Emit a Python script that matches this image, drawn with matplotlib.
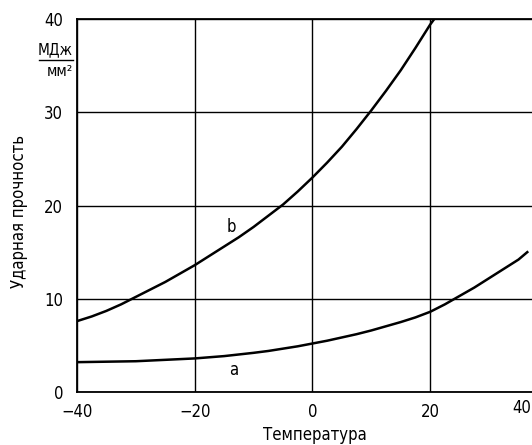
import numpy as np
import matplotlib.pyplot as plt
from matplotlib.lines import Line2D

plt.rcParams['font.family'] = ['DejaVu Sans']
plt.rcParams['font.stretch'] = 'condensed'

# Curve b (upper)
temp_b = [-40, -37.5, -35, -32.5, -30, -27.5, -25, -22.5, -20, -17.5, -15, -12.5, -10,
          -7.5, -5, -2.5, 0, 2.5, 5, 7.5, 10, 12.5, 15, 17.5, 20, 20.7]
impact_b = [7.6, 8.1, 8.7, 9.4, 10.2, 11.0, 11.8, 12.7, 13.6, 14.6, 15.6, 16.6, 17.7,
            18.9, 20.1, 21.5, 23.0, 24.6, 26.3, 28.2, 30.2, 32.3, 34.5, 36.9, 39.4, 40.0]

# Curve a (lower)
temp_a = [-40, -30, -25, -20, -15, -10, -7.5, -5, -2.5, 0, 2.5, 5, 7.5, 10, 12.5, 15,
          17.5, 20, 22.5, 25, 27.5, 30, 32.5, 35, 36.5]
impact_a = [3.2, 3.3, 3.45, 3.6, 3.85, 4.2, 4.4, 4.65, 4.9, 5.2, 5.5, 5.85, 6.2, 6.6, 7.05, 7.5,
            8.0, 8.6, 9.4, 10.3, 11.2, 12.2, 13.2, 14.2, 15.0]

xticks = [-40, -20, 0, 20]
yticks = [0, 10, 20, 30, 40]

fig = plt.figure(figsize=(5.32, 4.45), dpi=100)
ax = fig.add_axes([0.1447, 0.1191, 0.8553, 0.8382])

ax.plot(temp_b, impact_b, color='black', lw=1.8, solid_joinstyle='round')
ax.plot(temp_a, impact_a, color='black', lw=1.8, solid_joinstyle='round')

ax.set_xlim(-40, 37.3)
ax.set_ylim(0, 40)
ax.set_xticks(xticks)
ax.set_yticks(yticks)
ax.set_xticklabels(['\u221240', '\u221220', '0', '20'])
ax.tick_params(length=0, labelsize=12)
ax.tick_params(axis='x', pad=8)
ax.tick_params(axis='y', pad=10)

ax.grid(True, color='black', lw=1.0)
ax.set_axisbelow(True)
for s in ['left', 'bottom', 'top']:
    ax.spines[s].set_linewidth(1.3)
ax.spines['right'].set_visible(False)

# "40" at the right end of the x axis
fig.text(531 / 532, 1 - 408 / 445, '40', ha='right', va='center', fontsize=12)

ax.text(-13.7, 17.7, 'b', ha='center', va='center', fontsize=12)
ax.text(-13.3, 2.4, 'a', ha='center', va='center', fontsize=12)

# units МДж / мм²
fig.text(73 / 532, 1 - 50 / 445, 'МДж', ha='right', va='center', fontsize=11)
fig.add_artist(Line2D([39 / 532, 73 / 532], [1 - 60 / 445, 1 - 60 / 445],
                      color='black', lw=1.0, transform=fig.transFigure))
fig.text(73 / 532, 1 - 71 / 445, 'мм²', ha='right', va='center', fontsize=11)

fig.text(315 / 532, 1 - 435 / 445, 'Температура', ha='center', va='center', fontsize=12)
fig.text(19 / 532, 1 - 212 / 445, 'Ударная прочность', ha='center', va='center',
         rotation=90, fontsize=12)

fig.savefig('out.png', dpi=100)
